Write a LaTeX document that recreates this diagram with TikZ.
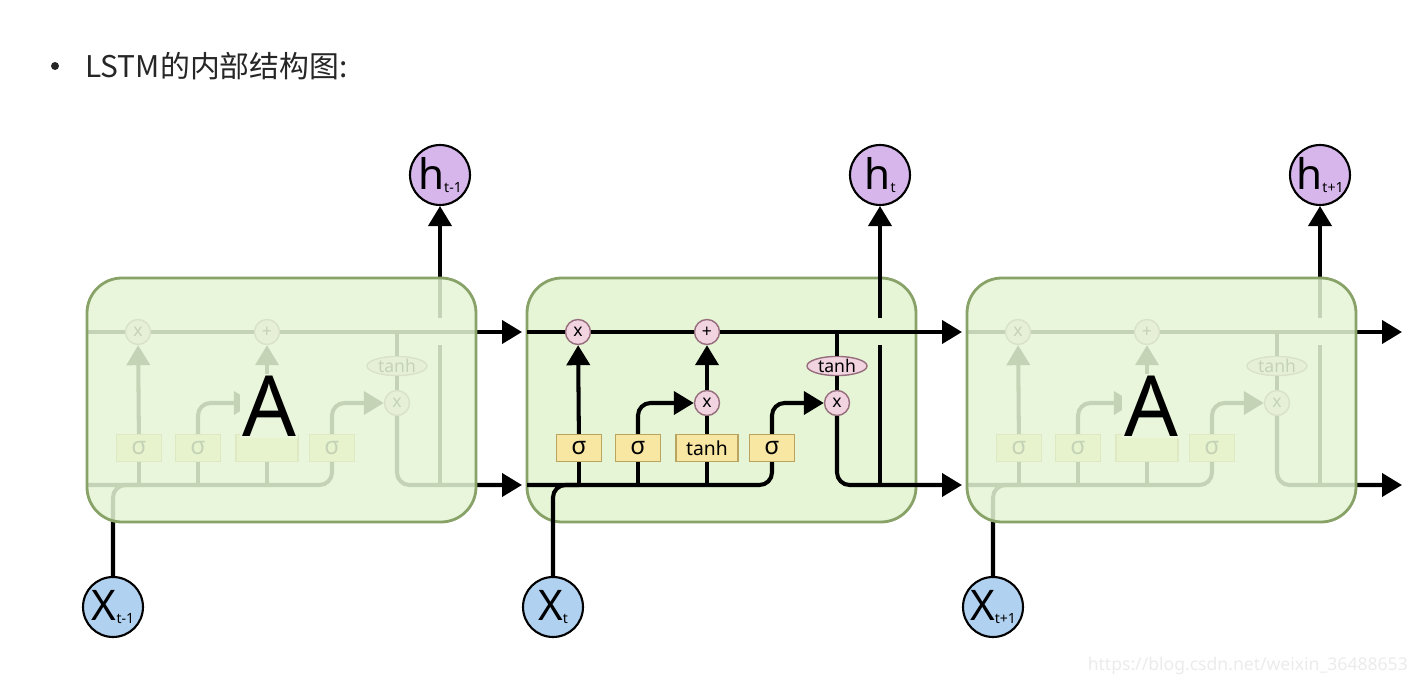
\documentclass[tikz,border=0pt]{standalone}
\usepackage{fontspec}
\setmainfont{Noto Sans}
\newfontfamily\cjk{Noto Sans CJK SC}
\definecolor{cellfill}{RGB}{229,245,213}
\definecolor{cellborder}{RGB}{136,162,104}
\definecolor{gatefill}{RGB}{242,212,224}
\definecolor{gateborder}{RGB}{150,110,125}
\definecolor{layerfill}{RGB}{247,231,162}
\definecolor{layerborder}{RGB}{185,165,95}
\definecolor{hfill}{RGB}{215,182,236}
\definecolor{xfill}{RGB}{176,210,240}
\usetikzlibrary{arrows.meta,shapes.geometric,calc}

\begin{document}
\begin{tikzpicture}
  [x=0.02cm, y=-0.02cm,
   cellbox/.style={draw=cellborder, line width=1.6pt, rounded corners=0.7cm},
   gate/.style={circle, draw=gateborder, fill=gatefill, line width=0.8pt,
     minimum size=0.5cm, inner sep=0pt, font=\fontsize{10}{10}\selectfont},
   layer/.style={rectangle, draw=layerborder, fill=layerfill, line width=0.8pt,
     minimum width=0.9cm, minimum height=0.54cm, inner sep=0pt,
     font=\fontsize{14}{14}\selectfont},
   flow/.style={line width=2.3pt, rounded corners=0.25cm},
   arr/.style={flow, -{Triangle[length=0.4cm,width=0.46cm]}},
   hnode/.style={circle, draw, fill=hfill, line width=1.2pt, minimum size=1.2cm,
     inner sep=0pt, font=\fontsize{24}{24}\selectfont},
   xnode/.style={hnode, fill=xfill},
   bigA/.style={fill=cellfill!86!white, inner sep=1pt, font=\fontsize{48}{48}\selectfont}]

  \useasboundingbox (0,0) rectangle (1424,686);

  % title
  \fill [black!85] (55,66) circle (0.08cm);
  \node [anchor=west, inner sep=0pt, text=black!85, font=\cjk\fontsize{17}{17}\selectfont] (title) at (85,66) {LSTM的内部结构图:};

  % middle cell
  \draw [cellbox, fill=cellfill] (527,278) rectangle (916,522);

  \foreach \c/\ox/\tl/\gx/\s in {l/-440/{}/{}/t-1, m/0/tanh/x/t, r/440/{}/{}/t+1} {
    \node [gate] (\c-mf) at ({\ox+578},332) {x};
    \node [gate] (\c-pc) at ({\ox+707},332) {+};
    \node [gate] (\c-mi) at ({\ox+707},403) {\gx};
    \node [gate] (\c-mo) at ({\ox+837},403) {x};
    \node [gate, ellipse, minimum width=1.2cm, minimum height=0.38cm] (\c-th) at ({\ox+837},366) {tanh};
    \node [layer] (\c-sf) at ({\ox+579},448) {σ};
    \node [layer] (\c-si) at ({\ox+638},448) {σ};
    \node [layer, minimum width=1.24cm, font=\fontsize{11}{11}\selectfont] (\c-tc) at ({\ox+707},448) {\tl};
    \node [layer] (\c-so) at ({\ox+772},448) {σ};
    \node [hnode] (\c-h) at ({\ox+880},175) {h\raisebox{-0.12ex}{\fontsize{8}{8}\selectfont\s}};
    \node [xnode] (\c-x) at ({\ox+553},607) {X\raisebox{-0.12ex}{\fontsize{8}{8}\selectfont\s}};
    \coordinate (\c-cin) at ({\ox+527},332);
    \coordinate (\c-cout) at ({\ox+962},332);
    \coordinate (\c-hin) at ({\ox+527},485);
    \coordinate (\c-hout) at ({\ox+962},485);
    \coordinate (\c-hup) at ({\ox+880},485);
    \coordinate (\c-gap) at ({\ox+880},345);
    \coordinate (\c-gaq) at ({\ox+880},318);

    % cell state
    \draw [arr] (\c-cin) -- (\c-mf) -- (\c-pc) -- (\c-cout);
    \draw [flow] (\c-th |- \c-cin) -- (\c-th);
    % hidden state and input
    \draw [flow] (\c-hin) -| (\c-so);
    \draw [flow] (\c-x) |- (\c-sf |- \c-hin);
    \draw [flow] (\c-sf |- \c-hin) -- (\c-sf);
    \draw [flow] (\c-si |- \c-hin) -- (\c-si);
    \draw [flow] (\c-tc |- \c-hin) -- (\c-tc);
    % gates
    \draw [arr] (\c-sf) -- (\c-mf);
    \draw [arr] (\c-si) |- (\c-mi);
    \draw [flow] (\c-tc) -- (\c-mi);
    \draw [arr] (\c-mi) -- (\c-pc);
    \draw [arr] (\c-so) |- (\c-mo);
    \draw [flow] (\c-th) -- (\c-mo);
    \draw [arr] (\c-mo) |- (\c-hout);
    % output
    \draw [flow] (\c-hup) -- (\c-gap);
    \draw [arr] (\c-gaq) -- (\c-h);
  }

  % faded side cells
  \draw [cellbox, fill=cellfill, fill opacity=0.86] (87,278) rectangle (476,522);
  \draw [cellbox, fill=cellfill, fill opacity=0.86] (967,278) rectangle (1356,522);
  \node [bigA] (la) at (269,406) {A};
  \node [bigA] (ra) at (1151,406) {A};

  \node [anchor=east, text=black!8, font=\fontsize{10}{10}\selectfont] (wm) at (1414,666) {https://blog.csdn.net/weixin\_36488653};
\end{tikzpicture}
\end{document}
